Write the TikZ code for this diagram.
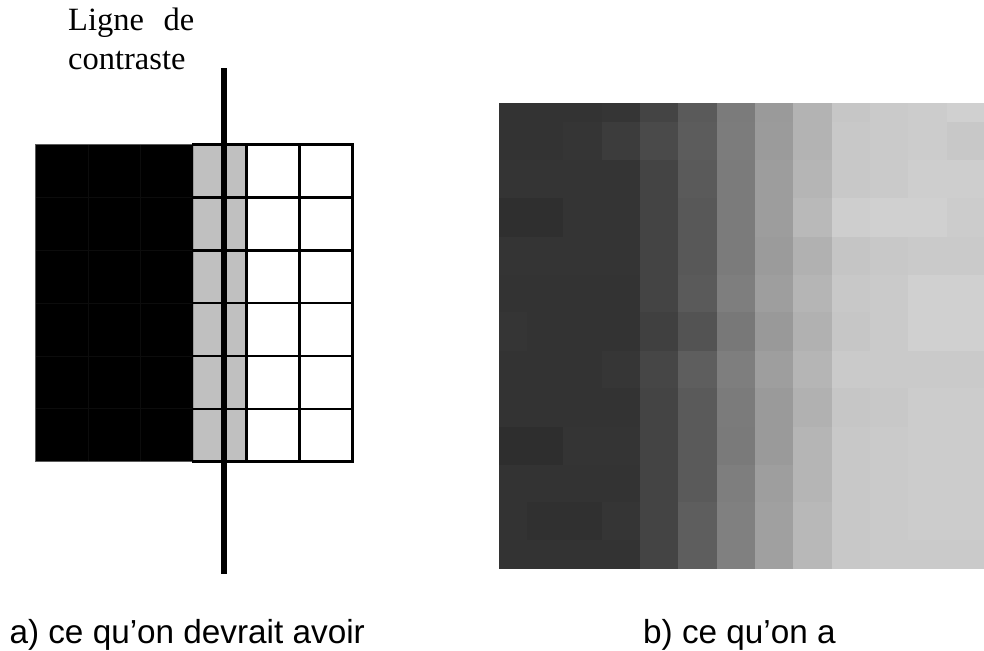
\documentclass[tikz,border=0pt]{standalone}
\usepackage{fontspec}
\setmainfont{Liberation Serif}
\newfontfamily\arialfont{Liberation Sans}
\definecolor{cellgray}{HTML}{C0C0C0}
\definecolor{blackedge}{HTML}{5A5A5A}
\definecolor{blackseam}{HTML}{0C0C0C}
\tikzset{
  gridline/.style={line width=2.6pt, black, line cap=rect},
  contrastline/.style={line width=6.6pt, black, line cap=butt},
  serifbig/.style={font=\fontsize{32.5}{38}\selectfont, inner sep=0pt, anchor=base west},
  sanslabel/.style={font=\arialfont\fontsize{33.3}{40}\selectfont, inner sep=0pt, anchor=base west},
}
\begin{document}
\begin{tikzpicture}[x=1pt,y=-1pt]
\useasboundingbox (0,0) rectangle (984,650);

% ---------- left grid ----------
\def\gx{35}\def\gy{144.5}\def\cw{52.9}\def\ch{52.87}
\fill[black] (35,144.5) rectangle (193.7,461.7);
\fill[cellgray] (193.7,144.5) rectangle (246.6,461.7);
% faint seams inside the black part
\foreach \i in {1,2} \draw[blackseam, line width=0.8pt] ({\gx+\i*\cw},144.5) -- ({\gx+\i*\cw},461.7);
\foreach \j in {1,...,5} \draw[blackseam, line width=0.8pt] (35,{\gy+\j*\ch}) -- (193.7,{\gy+\j*\ch});
% outline of the black part
\draw[blackedge, line width=0.9pt] (193.7,144.5) -- (35,144.5) -- (35,461.7) -- (193.7,461.7);
\draw[blackedge!60, line width=0.7pt] (193.7,144.5) -- (193.7,461.7);
% thick grid over grey and white columns
\foreach \j in {0,...,6} \draw[gridline] (193.7,{\gy+\j*\ch}) -- (352.4,{\gy+\j*\ch});
\foreach \i in {4,5,6} \draw[gridline] ({\gx+\i*\cw},144.5) -- ({\gx+\i*\cw},461.7);

% contrast line
\coordinate (ctop) at (224,68.3);
\coordinate (cbot) at (224,574);
\draw[contrastline] (ctop) -- (cbot);

% label of the line
\node[serifbig] (lig1) at (68,30.7) {\makebox[126pt][s]{Ligne de}};
\node[serifbig] (lig2) at (68,69.5) {contraste};

% ---------- right blurred image ----------
\def\xs{{499,527,563.3,601.7,640,678.3,716.7,755,793.3,831.7,870,908.3,946.7,984}}
\def\ys{{103,121.7,160,198.3,236.7,275,312.3,350.7,388.3,426.7,465,502.3,540,568.3}}
\begin{scope}
\clip (499,103) rectangle (984,568.3);
\foreach \row [count=\r from 0] in {
 {51,51,51,53,68,90,123,154,179,198,202,204,208},
 {51,51,53,60,74,92,124,155,179,200,202,204,200},
 {52,52,52,52,68,90,123,157,181,200,202,206,206},
 {47,47,52,52,68,88,123,157,185,206,208,208,204},
 {52,52,52,52,68,88,123,155,177,197,200,202,202},
 {51,51,51,51,68,90,126,158,181,200,202,208,208},
 {53,51,51,51,64,83,120,153,177,198,202,208,208},
 {51,51,51,54,70,94,126,158,181,202,202,202,202},
 {51,51,51,51,68,90,123,154,177,198,200,204,204},
 {46,46,52,52,68,90,122,154,181,200,202,204,204},
 {51,51,51,51,68,90,126,158,181,200,202,204,204},
 {51,48,48,53,68,94,128,160,184,200,202,204,204},
 {51,51,51,51,68,94,128,160,184,200,202,202,202}}{
  \foreach \v [count=\c from 0] in \row {
    \pgfmathsetmacro\xa{\xs[\c]}
    \pgfmathsetmacro\xb{\xs[\c+1]}
    \pgfmathsetmacro\ya{\ys[\r]}
    \pgfmathsetmacro\yb{\ys[\r+1]}
    \fill[fill={rgb,255:red,\v;green,\v;blue,\v}] (\xa,\ya) rectangle ({\xb+0.6},{\yb+0.6});
  }
}
\end{scope}

% ---------- captions ----------
\node[sanslabel] (capa) at (9.3,643.3) {a) ce qu’on devrait avoir};
\node[sanslabel] (capb) at (643,643.3) {b) ce qu’on a};
\end{tikzpicture}
\end{document}
